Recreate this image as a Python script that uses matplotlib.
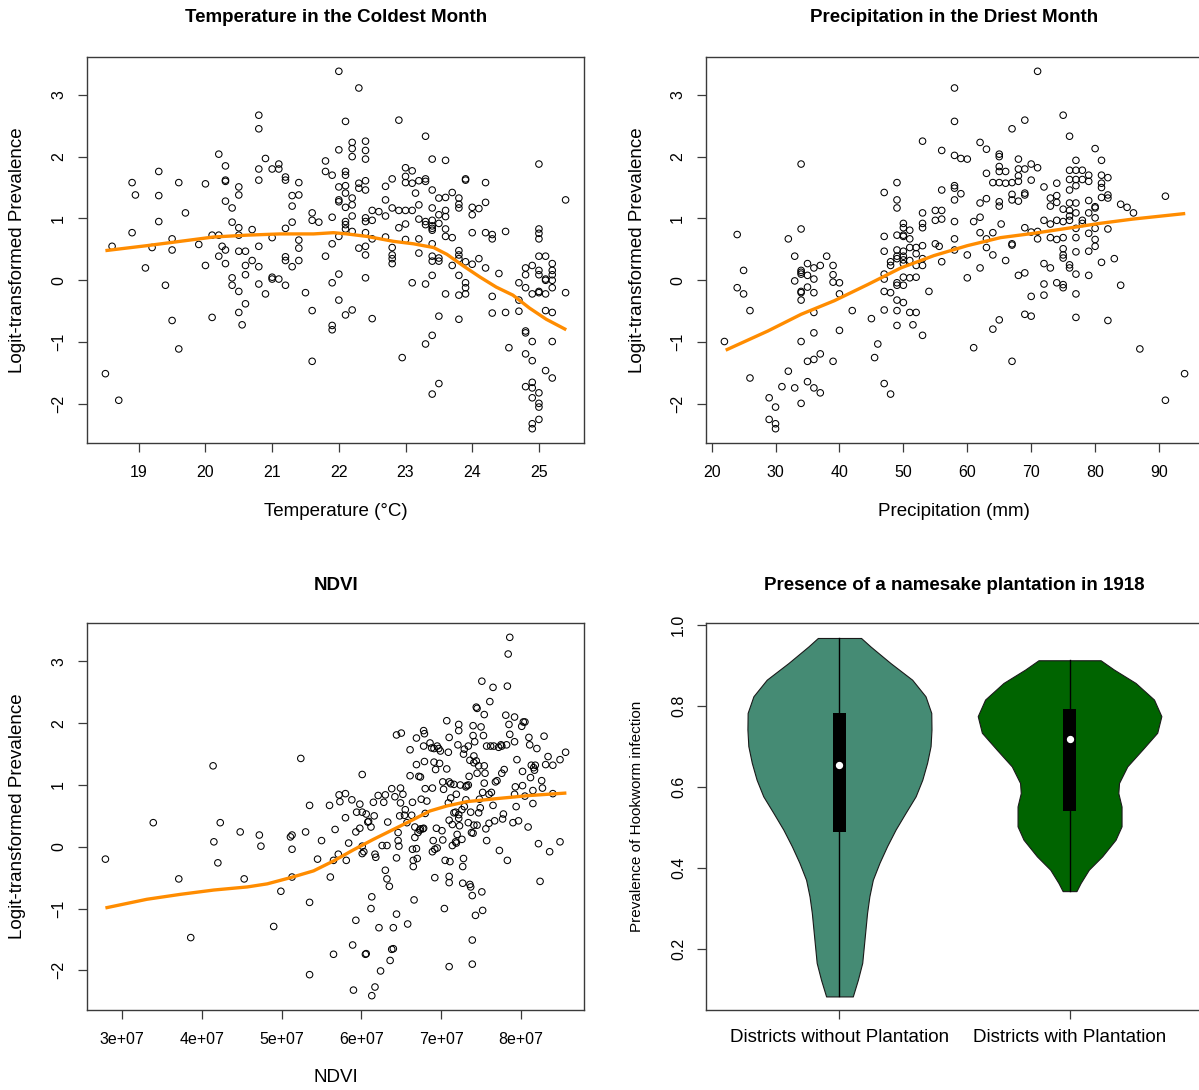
import numpy as np
import matplotlib
matplotlib.use("Agg")
import matplotlib.pyplot as plt
from matplotlib.ticker import FixedLocator, FuncFormatter

plt.rcParams['font.family'] = ['Liberation Sans', 'DejaVu Sans']

# ---- temperature in the coldest month (deg C) vs logit prevalence ----
temp_levels = [18.5, 18.6, 18.7, 18.9, 18.95, 19.1, 19.2, 19.3, 19.4, 19.5, 19.6, 19.7, 19.9,
               20.0, 20.1, 20.2, 20.25, 20.3, 20.4, 20.5, 20.55, 20.6, 20.7, 20.8, 20.9,
               21.0, 21.1, 21.2, 21.3, 21.4, 21.5, 21.6, 21.7, 21.8, 21.9,
               22.0, 22.1, 22.2, 22.3, 22.4, 22.5, 22.6, 22.7, 22.8, 22.9, 22.95,
               23.0, 23.1, 23.15, 23.2, 23.3, 23.4, 23.5, 23.6, 23.7, 23.8, 23.9,
               24.0, 24.1, 24.2, 24.3, 24.4, 24.5, 24.55, 24.7, 24.8, 24.9,
               25.0, 25.1, 25.2, 25.4]
temp_prev = [
    [-1.51], [0.55], [-1.94], [1.58, 0.77], [1.38], [0.20], [0.53], [1.76, 1.37, 0.95], [-0.08],
    [0.67, 0.49, -0.65], [1.58, -1.11], [1.09], [0.58],
    [1.56, 0.24], [0.73, -0.60], [2.04, 0.73, 0.39], [0.55], [1.85, 1.62, 1.60, 1.28, 0.49, 0.27],
    [1.17, 0.94, 0.04, -0.08], [1.51, 1.38, 0.85, 0.73, 0.47, -0.18, -0.52], [-0.72],
    [0.47, 0.24, 0.09, -0.38], [0.82, 0.32], [2.67, 2.45, 1.80, 1.62, 0.55, 0.22, -0.06], [1.97, -0.22],
    [1.80, 0.69, 0.05, 0.02], [1.88, 1.80, 0.02], [1.67, 1.62, 0.84, 0.38, 0.32, -0.08],
    [1.37, 1.20, 0.94, 0.22], [1.58, 1.38, 0.65, 0.52, 0.32], [-0.20], [1.09, 0.97, -0.49, -1.31],
    [0.94], [1.93, 1.76, 0.39], [1.70, 1.02, 0.59, -0.04, -0.73, -0.80],
    [3.38, 2.11, 1.51, 1.30, 1.27, 0.71, 0.10, -0.32],
    [2.57, 1.76, 1.70, 1.53, 1.41, 1.18, 0.95, 0.90, 0.83, -0.56],
    [2.23, 2.13, 2.00, 1.33, 1.22, 1.04, 0.79, -0.48], [3.11, 1.57, 1.49, 0.52],
    [2.25, 2.10, 1.96, 1.61, 1.46, 1.01, 0.95, 0.77, 0.55, 0.41, 0.04],
    [1.13, 0.97, 0.67, -0.62], [1.11], [1.52, 1.30, 1.04, 0.70], [1.64, 1.17, 0.53, 0.41, 0.35, 0.27],
    [2.59, 1.13, 0.85], [-1.25],
    [1.82, 1.68, 1.58, 1.13, 0.91, 0.66], [1.77, 1.57, 1.13, -0.04], [1.41], [1.61, 1.22, 0.99, 0.67, 0.44],
    [2.33, 1.64, 1.60, 0.95, 0.90, -0.06, -1.03],
    [1.96, 1.46, 1.17, 0.97, 0.88, 0.84, 0.81, 0.59, 0.39, 0.31, 0.08, -0.89, -1.84],
    [1.33, 1.06, 0.92, 0.36, 0.31, -0.58, -1.67], [1.94, 1.34, 1.13, 1.03, 0.83, 0.71, -0.22],
    [1.42, 0.69, 0.24], [1.33, 1.23, 1.17, 0.48, 0.41, 0.35, 0.08, -0.24, -0.63],
    [1.64, 1.62, 0.30, -0.04, -0.12, -0.22],
    [1.18, 1.06, 0.77, 0.26], [1.16, 0.35], [1.58, 1.26, 0.77, 0.20], [0.74, 0.67, -0.26, -0.53], [0.11],
    [0.79, -0.52], [-1.09], [-0.04, -0.32, -0.50], [0.20, 0.09, -0.12, -0.82, -0.85, -1.19, -1.72],
    [0.24, -0.22, -0.99, -1.30, -1.65, -1.74, -1.90, -2.32, -2.40],
    [1.88, 0.83, 0.76, 0.67, 0.39, 0.16, 0.09, -0.18, -0.20, -1.82, -1.99, -2.05, -2.25],
    [0.39, 0.02, 0.00, -0.22, -0.49, -1.46], [0.27, 0.16, 0.09, 0.00, -0.12, -0.52, -0.99, -1.58],
    [1.30, -0.20],
]
temp_fit_x = [18.5, 19.12, 19.62, 20.12, 20.62, 21.12, 21.62, 21.92, 22.12, 22.42, 22.82,
              23.12, 23.42, 23.62, 23.87, 24.12, 24.36, 24.61, 24.86, 25.11, 25.41]
temp_fit_y = [0.48, 0.56, 0.63, 0.70, 0.73, 0.75, 0.75, 0.77, 0.75, 0.71, 0.63,
              0.59, 0.53, 0.42, 0.23, 0.05, -0.11, -0.24, -0.45, -0.63, -0.80]

# ---- precipitation in the driest month (mm) ----
precip_levels = [22, 24, 25, 26, 29, 30, 31, 32, 33, 34, 35, 36, 37, 38, 39, 40, 42, 45, 45.5, 46,
                 47, 48, 49, 50, 51, 51.5, 52, 53, 54, 55, 55.6, 56, 58, 59, 60, 61, 62, 63, 64,
                 65, 65.3, 66, 67, 68, 69, 70, 71, 72, 73, 74, 75, 76, 77, 78, 79, 80, 81, 82,
                 83, 84, 85, 86, 87, 91, 94]
precip_prev = [
    [-0.99], [0.74, -0.12], [0.16, -0.22], [-0.49, -1.58], [-1.90, -2.25], [-2.05, -2.32, -2.40],
    [-1.72], [0.67, -1.47], [0.39, -0.01, -1.74],
    [1.88, 0.83, 0.16, 0.13, 0.10, -0.18, -0.20, -0.32, -0.99, -1.99],
    [0.27, 0.08, -0.11, -1.31, -1.64], [0.20, 0.02, -0.20, -0.52, -0.85, -1.28, -1.74],
    [0.24, -1.19, -1.82], [0.39], [0.24, 0.09, -0.03, -1.31], [-0.04, -0.22, -0.81], [-0.49],
    [-0.62], [-1.25], [-1.03],
    [1.42, 0.71, 0.47, 0.10, 0.02, -0.18, -0.48, -1.67], [0.30, 0.24, -0.20, -1.84],
    [1.58, 1.30, 1.17, 0.73, 0.49, 0.39, 0.35, -0.04, -0.08, -0.32, -0.49, -0.73],
    [0.92, 0.85, 0.73, 0.71, 0.47, 0.39, 0.33, 0.27, 0.05, -0.08, -0.36],
    [0.81, 0.67, 0.53, 0.32, 0.04, -0.52], [-0.72], [0.53, 0.43, 0.24, 0.05, -0.52],
    [2.25, 1.09, 0.92, 0.85, 0.56, 0.35, 0.24, -0.89], [-0.18], [1.13, 0.97, 0.59], [0.55],
    [2.10, 1.46, 1.13, 0.99, 0.30], [3.11, 2.57, 2.02, 1.53, 1.49, 1.30, 0.95, 0.67, 0.49],
    [1.97, 1.40], [1.96, 0.41, 0.04], [0.95, -1.09], [2.23, 1.25, 1.02, 0.77, 0.20],
    [2.12, 1.73, 1.32, 0.67, 0.53], [1.58, 0.77, 0.41, -0.79],
    [2.04, 2.00, 1.84, 1.76, 1.58, 1.27, 1.20, -0.64], [0.91], [1.76, 1.57, 0.32],
    [2.45, 1.58, 1.39, 1.30, 0.59, 0.57, -1.31], [1.96, 1.80, 1.69, 1.60, 1.28, 0.08],
    [2.59, 1.80, 1.41, 1.38, 0.85, 0.12, -0.55], [1.88, 1.62, 0.78, -0.26, -0.58],
    [3.38, 1.82, 0.79, 0.67], [1.51, 0.97, 0.27, -0.06, -0.24], [1.33, 1.20, 0.91, 0.69, 0.20],
    [1.57, 1.37, 1.26, 0.97, 0.66, -0.04], [2.67, 1.15, 0.95, 0.69, 0.51, 0.41, 0.36, -0.07, -0.12],
    [2.33, 1.78, 1.63, 1.46, 1.25, 1.13, 1.04, 0.97, 0.25, 0.20],
    [1.94, 1.78, 1.63, 1.53, 1.25, 1.09, 0.84, 0.69, 0.46, 0.10, -0.22, -0.60],
    [1.78, 1.63, 0.97, 0.92], [1.70, 1.60, 1.29, 1.09, 0.76, 0.47, 0.08],
    [2.13, 1.19, 1.17, 1.01, 0.84, 0.66, 0.55], [1.94, 1.70, 1.57, 1.50, 1.34, 0.29],
    [1.66, 1.38, 1.33, 0.83, -0.65], [0.35], [1.23, -0.08], [1.18], [1.09], [-1.11],
    [1.36, -1.94], [-1.51],
]
precip_fit_x = [22.2, 28.8, 34.0, 39.2, 44.4, 49.6, 54.8, 60.0, 65.2, 70.4, 75.6, 80.7, 85.9, 94.1]
precip_fit_y = [-1.13, -0.82, -0.55, -0.33, -0.07, 0.20, 0.40, 0.56, 0.69, 0.76, 0.84, 0.92, 0.99, 1.08]

# ---- NDVI (x 1e7) ----
ndvi_points = [
    (2.79, -0.20), (3.39, 0.39), (3.71, -0.52), (3.86, -1.47), (4.14, 1.31), (4.15, 0.08), (4.20, -0.26),
    (4.23, 0.39), (4.48, 0.24), (4.53, -0.52), (4.72, 0.19), (4.74, 0.01), (4.90, -1.29), (4.99, -0.72),
    (5.11, 0.16), (5.13, 0.19), (5.13, -0.04), (5.13, -0.49), (5.24, 1.43), (5.30, 0.24), (5.35, 0.67),
    (5.35, -0.90), (5.35, -2.07), (5.45, -0.20), (5.50, 0.10), (5.60, 0.67), (5.61, -0.49), (5.65, -1.74),
    (5.65, -0.22), (5.67, 0.28), (5.71, -0.12), (5.72, 0.84), (5.73, 0.73), (5.80, 0.86), (5.80, 0.47),
    (5.81, -0.22), (5.84, 0.06), (5.88, 0.76), (5.89, -1.59), (5.90, -2.32), (5.93, -1.19), (5.93, 0.24),
    (5.98, 0.69), (5.98, 0.30), (5.94, 0.56), (6.01, 1.17), (6.01, 0.56), (6.01, 0.01), (6.01, -0.11),
    (6.03, -0.08), (6.05, -1.74), (6.06, 0.53), (6.06, -1.73), (6.08, 0.40), (6.09, 0.41), (6.12, 0.32),
    (6.12, -1.00), (6.13, -0.81), (6.13, -2.41), (6.15, 0.72), (6.16, 0.50), (6.17, -0.12), (6.17, -2.27),
    (6.18, -0.17), (6.21, 0.83), (6.22, -1.31), (6.24, -2.01), (6.26, 0.02), (6.28, 0.72), (6.30, -0.38),
    (6.30, 0.84), (6.32, -0.52), (6.32, 0.02), (6.33, 0.40), (6.35, -0.64), (6.36, -1.84), (6.38, 0.94),
    (6.38, -1.66), (6.40, -1.65), (6.40, -1.31), (6.42, 0.81), (6.44, -1.09), (6.44, 1.81), (6.44, -0.18),
    (6.46, 0.10), (6.46, 0.23), (6.47, 0.01), (6.48, 0.50), (6.49, 0.95), (6.49, 0.71), (6.50, 1.84),
    (6.52, 0.85), (6.54, 0.51), (6.55, 0.60), (6.57, 0.39), (6.58, -1.25), (6.61, 1.15), (6.61, 1.57),
    (6.63, 0.51), (6.64, 0.72), (6.64, -0.04), (6.65, -0.22), (6.65, -0.32), (6.66, -0.86), (6.67, 0.32),
    (6.67, 0.15), (6.69, 1.76), (6.69, -0.03), (6.69, 1.33), (6.70, -0.19), (6.71, 0.23), (6.72, 1.14),
    (6.73, 0.27), (6.74, 1.13), (6.74, 0.29), (6.75, 0.77), (6.77, 0.29), (6.78, 1.88), (6.78, 1.63),
    (6.78, 0.30), (6.79, 1.38), (6.79, 1.83), (6.80, 0.54), (6.80, 0.94), (6.82, 0.74), (6.86, 1.68),
    (6.88, 1.60), (6.89, -0.08), (6.89, 0.95), (6.90, 0.10), (6.91, 1.59), (6.91, 1.37), (6.92, -0.50),
    (6.92, -0.04), (6.93, 1.25), (6.94, 0.30), (6.95, 1.63), (6.95, -0.02), (6.97, 1.59), (6.98, 1.35),
    (6.99, 1.55), (7.01, 0.26), (7.02, 1.05), (7.02, 0.11), (7.03, 0.93), (7.04, -1.00), (7.05, -0.22),
    (7.07, 2.04), (7.07, 1.26), (7.09, 1.53), (7.09, 0.71), (7.10, 1.77), (7.10, -0.48), (7.10, 1.05),
    (7.10, -0.58), (7.10, -1.94), (7.10, 0.43), (7.11, -0.24), (7.12, 1.02), (7.12, 0.79), (7.14, 0.02),
    (7.14, 0.36), (7.16, 1.01), (7.16, 0.55), (7.18, 0.56), (7.18, 0.08), (7.19, 0.85), (7.19, 0.06),
    (7.20, 0.20), (7.21, 1.65), (7.22, 0.52), (7.22, 1.98), (7.22, 1.88), (7.22, 0.46), (7.23, 0.34),
    (7.24, 1.00), (7.26, 0.60), (7.26, 0.12), (7.27, -0.32), (7.27, -0.59), (7.28, -0.19), (7.28, 1.50),
    (7.29, 1.58), (7.29, 0.65), (7.31, 0.76), (7.31, 0.97), (7.32, 0.99), (7.34, 1.00), (7.34, 0.39),
    (7.34, 1.63), (7.35, 1.14), (7.36, 1.40), (7.36, -0.61), (7.37, -0.65), (7.37, 0.56), (7.38, 0.23),
    (7.39, -0.79), (7.39, -1.51), (7.39, -1.90), (7.40, 1.96), (7.40, 1.80), (7.40, 0.22), (7.41, 1.36),
    (7.41, 1.47), (7.41, 0.35), (7.42, 1.70), (7.43, -1.11), (7.44, 2.26), (7.44, 1.39), (7.45, 1.19),
    (7.45, 2.24), (7.45, 0.35), (7.47, 1.31), (7.47, 0.55), (7.48, 0.77), (7.49, 0.63), (7.50, 1.94),
    (7.51, -0.73), (7.51, 2.68), (7.52, 0.88), (7.52, -1.03), (7.53, 1.80), (7.54, 1.31), (7.54, 1.03),
    (7.54, 2.14), (7.55, 1.19), (7.56, 0.29), (7.57, 0.10), (7.57, 1.63), (7.60, 0.85), (7.60, 0.38),
    (7.61, 2.35), (7.62, 1.63), (7.63, 0.88), (7.65, 2.58), (7.65, 0.67), (7.66, 1.63), (7.67, 0.42),
    (7.68, 1.05), (7.70, 1.07), (7.72, 1.61), (7.73, -0.06), (7.75, 1.65), (7.76, 1.63), (7.76, 1.19),
    (7.77, 0.45), (7.78, 0.53), (7.79, 1.25), (7.81, 2.13), (7.82, 1.65), (7.83, 2.60), (7.83, -0.22),
    (7.84, 3.12), (7.85, 1.98), (7.86, 3.39), (7.86, 1.82), (7.90, 0.39), (7.92, 1.70), (7.92, 2.10),
    (7.92, 0.85), (7.93, 0.97), (7.94, 0.65), (7.95, 1.41), (7.97, 0.42), (8.01, 1.95), (8.02, 1.22),
    (8.03, 2.02), (8.02, 0.99), (8.05, 2.02), (8.05, 0.82), (8.09, 0.32), (8.10, 1.77), (8.11, 1.65),
    (8.12, 1.12), (8.13, 1.32), (8.15, 0.91), (8.15, 0.70), (8.16, 1.28), (8.17, 1.24), (8.18, 1.32),
    (8.20, 1.59), (8.22, 0.05), (8.24, -0.56), (8.26, 1.07), (8.27, 0.95), (8.29, 1.79), (8.31, 1.33),
    (8.34, 1.46), (8.36, -0.08), (8.40, 1.32), (8.40, 0.86), (8.49, 1.41), (8.49, 0.08), (8.56, 1.53),
]
ndvi_fit_x = [2.79, 3.31, 3.73, 4.15, 4.57, 4.82, 5.11, 5.40, 5.65, 5.90, 6.15, 6.40, 6.65,
              6.86, 7.07, 7.32, 7.70, 8.11, 8.57]
ndvi_fit_y = [-0.99, -0.85, -0.77, -0.70, -0.65, -0.60, -0.50, -0.39, -0.23, -0.05, 0.12, 0.28, 0.44,
              0.58, 0.66, 0.73, 0.78, 0.83, 0.87]

# ---- violin: prevalence by plantation presence ----
groups = ["Districts without Plantation", "Districts with Plantation"]
viol_colors = ["#458B74", "#006400"]
v1_y = [0.082, 0.123, 0.165, 0.206, 0.247, 0.288, 0.329, 0.370, 0.412, 0.453, 0.494, 0.535,
        0.576, 0.617, 0.659, 0.700, 0.741, 0.782, 0.823, 0.864, 0.905, 0.946, 0.967]
v1_hw = [0.058, 0.080, 0.099, 0.106, 0.113, 0.120, 0.130, 0.145, 0.174, 0.207, 0.244, 0.287,
         0.331, 0.360, 0.381, 0.396, 0.400, 0.399, 0.374, 0.316, 0.222, 0.135, 0.094]
v2_y = [0.342, 0.362, 0.395, 0.428, 0.469, 0.502, 0.551, 0.584, 0.609, 0.650, 0.691, 0.733,
        0.774, 0.815, 0.856, 0.889, 0.912]
v2_hw = [0.030, 0.048, 0.084, 0.142, 0.200, 0.226, 0.226, 0.212, 0.215, 0.251, 0.316, 0.381,
         0.399, 0.367, 0.287, 0.193, 0.135]
q1s = [0.488, 0.539]
q3s = [0.782, 0.792]
medians = [0.654, 0.718]

W, H = 1199, 1090
ORANGE = "#FF8C00"
FRAME = "#3a3a3a"


def box(left, top, right, bottom):
    return [left / W, 1 - bottom / H, (right - left) / W, (bottom - top) / H]


def ptext(fig, x, y, s, **kw):
    fig.text(x / W, 1 - y / H, s, ha="center", va="center", **kw)


def r_lim(v):
    lo, hi = min(v), max(v)
    d = (hi - lo) * 0.04
    return lo - d, hi + d


def r_axes(ax, ypad=8.6, xpad=9.4, xsize=11.5):
    for s in ax.spines.values():
        s.set_color(FRAME)
        s.set_linewidth(1.0)
    ax.tick_params(direction="out", length=6.5, width=0.9, color=FRAME, labelsize=11.5)
    ax.tick_params(axis="x", pad=xpad, labelsize=xsize)
    ax.tick_params(axis="y", pad=ypad, labelrotation=90)
    for lab in ax.get_yticklabels():
        lab.set_va("center")


def scatter_panel(ax, x, y, fx, fy):
    ax.scatter(x, y, s=22, facecolors="none", edgecolors="black", linewidths=0.75, zorder=2)
    ax.plot(fx, fy, color=ORANGE, lw=2.4, zorder=3, solid_capstyle="butt")
    ax.set_xlim(r_lim(x))
    ax.set_ylim(r_lim(y))
    ax.yaxis.set_major_locator(FixedLocator([-2, -1, 0, 1, 2, 3]))


fig = plt.figure(figsize=(W / 100, H / 100), dpi=100)

# temperature
tx = np.concatenate([[t] * len(p) for t, p in zip(temp_levels, temp_prev)])
ty = np.concatenate(temp_prev)
ax1 = fig.add_axes(box(87, 57, 584, 443))
scatter_panel(ax1, tx, ty, temp_fit_x, temp_fit_y)
ax1.xaxis.set_major_locator(FixedLocator(range(19, 26)))
r_axes(ax1)

# precipitation
px = np.concatenate([[t] * len(p) for t, p in zip(precip_levels, precip_prev)])
py = np.concatenate(precip_prev)
ax2 = fig.add_axes(box(706, 57, 1203, 443))
scatter_panel(ax2, px, py, precip_fit_x, precip_fit_y)
ax2.xaxis.set_major_locator(FixedLocator(range(20, 100, 10)))
r_axes(ax2)

# ndvi
nx = np.array([p[0] for p in ndvi_points]) * 1e7
ny = np.array([p[1] for p in ndvi_points])
ax3 = fig.add_axes(box(87, 623, 584, 1010))
scatter_panel(ax3, nx, ny, np.array(ndvi_fit_x) * 1e7, ndvi_fit_y)
ax3.xaxis.set_major_locator(FixedLocator([3e7, 4e7, 5e7, 6e7, 7e7, 8e7]))
ax3.xaxis.set_major_formatter(FuncFormatter(lambda v, _: f"{v:.0e}"))
r_axes(ax3)

# violins
ax4 = fig.add_axes(box(706, 623, 1203, 1010))
for i, (vy, vw) in enumerate([(v1_y, v1_hw), (v2_y, v2_hw)]):
    pos = i + 1
    vy = np.array(vy)
    vw = np.array(vw)
    ax4.fill_betweenx(vy, pos - vw, pos + vw, facecolor=viol_colors[i], edgecolor="#1a1a1a",
                      linewidth=0.8, zorder=2)
    ax4.plot([pos, pos], [vy[0], vy[-1]], color="black", lw=1.0, zorder=3)
    ax4.bar(pos, q3s[i] - q1s[i], bottom=q1s[i], width=0.055, color="black", zorder=4)
    ax4.scatter([pos], [medians[i]], s=18, color="white", zorder=5)
ax4.set_xlim(0.42, 2.58)
ax4.set_ylim(0.0485, 1.004)
ax4.xaxis.set_major_locator(FixedLocator([1, 2]))
ax4.set_xticklabels(groups)
ax4.yaxis.set_major_locator(FixedLocator([0.2, 0.4, 0.6, 0.8, 1.0]))
ax4.yaxis.set_major_formatter(FuncFormatter(lambda v, _: f"{v:.1f}"))
r_axes(ax4, ypad=7.8, xpad=7.4, xsize=13.5)

# titles and axis labels
bold = dict(fontsize=13.5, fontweight="bold")
ptext(fig, 336, 18, "Temperature in the Coldest Month", **bold)
ptext(fig, 954, 18, "Precipitation in the Driest Month", **bold)
ptext(fig, 336, 585, "NDVI", **bold)
ptext(fig, 954, 585, "Presence of a namesake plantation in 1918", **bold)

ptext(fig, 336, 512, "Temperature (°C)", fontsize=13.5)
ptext(fig, 954, 512, "Precipitation (mm)", fontsize=13.5)
ptext(fig, 336, 1078, "NDVI", fontsize=13.5)

ptext(fig, 18, 250, "Logit-transformed Prevalence", fontsize=13.5, rotation=90)
ptext(fig, 637, 250, "Logit-transformed Prevalence", fontsize=13.5, rotation=90)
ptext(fig, 18, 816, "Logit-transformed Prevalence", fontsize=13.5, rotation=90)
ptext(fig, 637, 816, "Prevalence of Hookworm infection", fontsize=11, rotation=90)

fig.savefig("out.png", dpi=100)
